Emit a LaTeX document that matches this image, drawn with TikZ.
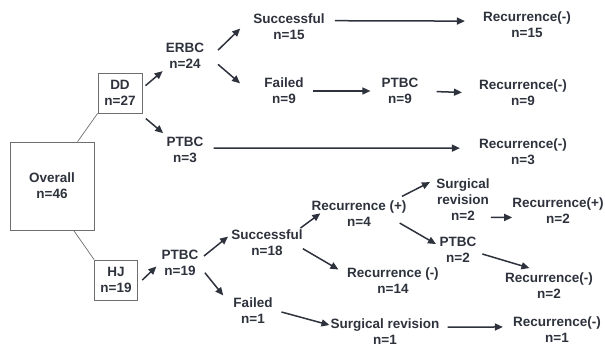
\documentclass[tikz,border=0pt]{standalone}
\usepackage{fontspec}
\setmainfont{Liberation Sans}
\usetikzlibrary{arrows.meta}
\definecolor{ink}{RGB}{45,50,60}
\definecolor{frame}{RGB}{110,110,110}

\begin{document}
\begin{tikzpicture}
[   x=1pt,y=-1pt,
    txt/.style={align=center,inner sep=0pt,text=ink,font=\bfseries\fontsize{13.5}{16}\selectfont},
    cbox/.style={txt,draw=frame,line width=0.8pt,minimum width=#1},
    arr/.style={draw=ink,line width=1.5pt,-{Triangle[length=8pt,width=7pt]}},
    lnk/.style={draw=frame,line width=0.7pt},
]
    \useasboundingbox (0,0) rectangle (605,348);
    \node[cbox=84pt,minimum height=88pt] (all) at (52,186) {Overall\\n=46};
    \node[cbox=44pt,minimum height=40pt] (dd) at (120,93) {DD\\n=27};
    \node[cbox=43pt,minimum height=40pt] (hj) at (116,280) {HJ\\n=19};
    \node[txt] (erbc) at (185,56) {ERBC\\n=24};
    \node[txt] (ptbc-3) at (185,150) {PTBC\\n=3};
    \node[txt] (succ-15) at (289,27) {Successful\\n=15};
    \node[txt] (fail-9) at (284,91) {Failed\\n=9};
    \node[txt] (ptbc-9) at (400,91) {PTBC\\n=9};
    \node[txt] (ptbc-19) at (180,263) {PTBC\\n=19};
    \node[txt] (succ-18) at (267,243) {Successful\\n=18};
    \node[txt] (fail-1) at (253,311) {Failed\\n=1};
    \node[txt] (pos-4) at (359,214) {Recurrence (+)\\n=4};
    \node[txt] (neg-14) at (393,281) {Recurrence (-)\\n=14};
    \node[txt] (surg-2) at (463,200) {Surgical\\revision\\n=2};
    \node[txt] (ptbc-2) at (458,250) {PTBC\\n=2};
    \node[txt] (pos-2) at (558,211) {Recurrence(+)\\n=2};
    \node[txt] (surg-1) at (385,332) {Surgical revision\\n=1};
    \foreach \n/\x/\y in {15/527/25,9/523/93,3/523/152,2/549/286,1/557/330}
    {   \node[txt] (neg-\n) at (\x,\y) {Recurrence(-)\\n=\n};
    }
    \draw[lnk] (all.60) -- (dd.south west);
    \draw[lnk] (all.-64) -- (hj.north west);
    \draw[arr,shorten <=4pt,shorten >=4pt] (dd.12) -- (erbc.213);
    \draw[arr,shorten <=8pt,shorten >=6pt] (dd.-46) -- (ptbc-3.143);
    \draw[arr,shorten <=19pt,shorten >=18pt] (erbc.-21) -- (succ-15.163);
    \draw[arr,shorten <=18pt,shorten >=32pt] (erbc.10) -- (fail-9.south west);
    \draw[arr,shorten <=10pt,shorten >=18pt] (succ-15.10) -- (neg-15.175);
    \draw[arr,shorten <=9pt,shorten >=11pt] (fail-9.east) -- (ptbc-9.west);
    \draw[arr,shorten <=18pt,shorten >=17pt] (ptbc-9.east) -- (neg-9.west);
    \draw[arr,shorten <=10pt,shorten >=19pt] (ptbc-3.6) -- (neg-3.175);
    \draw[arr,shorten <=6pt,shorten >=7pt] (hj.-11) -- (ptbc-19.176);
    \draw[arr,shorten <=7pt,shorten >=4pt] (ptbc-19.8) -- (succ-18.166);
    \draw[arr,shorten <=10pt,shorten >=16pt] (ptbc-19.-6) -- (fail-1.171);
    \draw[arr,shorten <=3pt,shorten >=21pt] (succ-18.23) -- (pos-4.149);
    \draw[arr,shorten >=10pt] (succ-18.-9) -- (neg-14.172);
    \draw[arr,shorten <=10pt,shorten >=7pt] (pos-4.21) -- (surg-2.north west);
    \draw[arr,shorten <=-8pt,shorten >=4pt] (pos-4.south east) -- (ptbc-2.168);
    \draw[arr,shorten <=1pt] (surg-2.-33) -- (pos-2.188);
    \draw[arr,shorten <=6pt,shorten >=17pt] (ptbc-2.-7) -- (neg-2.104);
    \draw[arr,shorten <=9pt,shorten >=1pt] (fail-1.4) -- (surg-1.173);
    \draw[arr,shorten <=8pt,shorten >=10pt] (surg-1.5) -- (neg-1.176);
\end{tikzpicture}
\end{document}
